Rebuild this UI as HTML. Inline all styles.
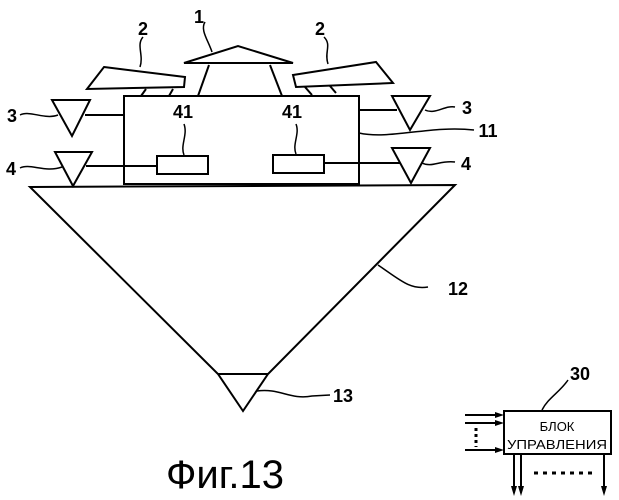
<!DOCTYPE html><html><head><style>body{margin:0;background:#fff}svg{display:block}</style></head><body>
<svg width="619" height="500" viewBox="0 0 619 500" font-family="Liberation Sans, sans-serif" font-weight="bold">
<g fill="none" stroke="#000" stroke-width="2">
<polygon points="184,63 238,46 293,63"/>
<line x1="209" y1="65" x2="198" y2="96"/><line x1="270" y1="65" x2="282" y2="96"/>
<polygon points="104,67 185,77 184,87 87,89"/>
<line x1="146" y1="89" x2="141" y2="96"/><line x1="173" y1="89" x2="169" y2="96"/>
<polygon points="293,75 376,62 393,83 296,87"/>
<line x1="305" y1="87" x2="312" y2="95"/><line x1="330" y1="86" x2="336" y2="93"/>
<rect x="124" y="96" width="235" height="88"/>
<polygon points="52,100 90,100 72,136"/><line x1="85" y1="115" x2="124" y2="115"/>
<polygon points="392,96 430,96 410,130"/><line x1="359" y1="110" x2="397" y2="110"/>
<polygon points="55,152 92,152 73,186"/><line x1="86" y1="166" x2="157" y2="166"/>
<polygon points="392,148 430,148 411,183"/><line x1="324" y1="163" x2="400" y2="163"/>
<rect x="157" y="156" width="51" height="18"/><rect x="273" y="155" width="51" height="18"/>
<polygon points="30,187 455,185 268,374 243,411 218,374"/><line x1="218" y1="374" x2="268" y2="374"/>
<g stroke-width="1.5">
<path d="M20,115 C30,110 45,120 58,115"/><path d="M425,110 C435,115 445,105 455,107"/>
<path d="M359,133 C390,140 430,125 474,130"/>
<path d="M20,168 C30,163 45,173 62,167"/><path d="M422,163 C432,168 440,160 455,162"/>
<path d="M184,155 C180,145 188,135 184,124"/><path d="M296,154 C292,144 300,134 296,124"/>
<path d="M140,67 C144,55 136,45 143,37"/><path d="M328,64 C324,52 332,45 324,37"/>
<path d="M212,52 C208,40 200,30 205,22"/>
<path d="M378,265 C400,280 410,290 428,287"/><path d="M257,391 C280,388 290,400 312,396 L330,395"/>
<path d="M542,410 C548,398 560,392 568,380"/>
</g>
<rect x="504" y="411" width="107" height="43"/>
<line x1="465" y1="415" x2="498" y2="415"/><line x1="465" y1="423" x2="498" y2="423"/><line x1="465" y1="450" x2="498" y2="450"/>
<line x1="476" y1="428" x2="476" y2="447" stroke-width="3" stroke-dasharray="3,3"/>
<line x1="514" y1="454" x2="514" y2="488"/><line x1="521" y1="454" x2="521" y2="488"/><line x1="604" y1="454" x2="604" y2="488"/>
<line x1="534" y1="473" x2="596" y2="473" stroke-width="3" stroke-dasharray="4,5"/>
</g>
<g fill="#000">
<polygon points="504,415 495,412 495,418"/><polygon points="504,423 495,420 495,426"/><polygon points="504,450 495,447 495,453"/>
<polygon points="514,496 511,486 517,486"/><polygon points="521,496 518,486 524,486"/><polygon points="604,496 601,486 607,486"/>
</g>
<g font-size="18" text-anchor="middle">
<text x="199" y="23">1</text><text x="143" y="35">2</text><text x="320" y="35">2</text>
<text x="12" y="122">3</text><text x="467" y="114">3</text><text x="488" y="137">11</text>
<text x="11" y="175">4</text><text x="466" y="170">4</text>
<text x="183" y="118">41</text><text x="292" y="118">41</text>
<text x="458" y="295">12</text><text x="343" y="402">13</text><text x="580" y="380">30</text>
</g>
<g font-size="13" font-weight="normal" text-anchor="middle"><text x="557" y="431">БЛОК</text><text x="557" y="449" textLength="100" lengthAdjust="spacingAndGlyphs">УПРАВЛЕНИЯ</text></g>
<text x="225" y="488" font-size="40" font-weight="normal" text-anchor="middle">Фиг.13</text>
</svg></body></html>
